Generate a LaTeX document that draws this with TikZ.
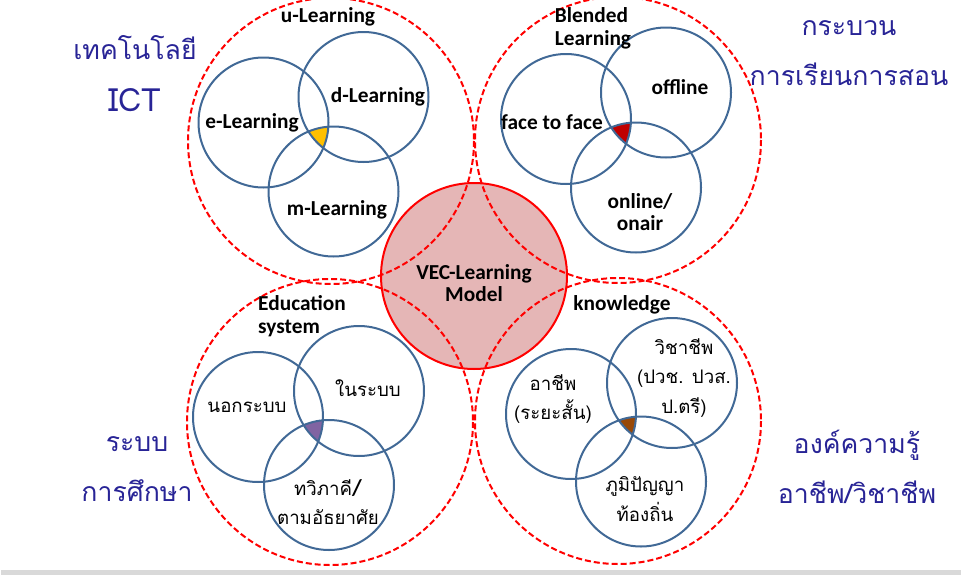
\documentclass[tikz,border=0pt]{standalone}
\usepackage{fontspec}
\setmainfont{Carlito}
\newfontfamily\thai[Script=Thai]{Loma}
\usetikzlibrary{positioning}
\definecolor{ringblue}{RGB}{65,105,150}
\definecolor{vecpink}{RGB}{229,182,182}
\definecolor{titleblue}{RGB}{40,36,150}
\definecolor{stripgray}{RGB}{217,217,217}
\definecolor{coreyellow}{RGB}{255,192,0}
\definecolor{corered}{RGB}{192,0,0}
\definecolor{corepurple}{RGB}{128,100,162}
\definecolor{corebrown}{RGB}{152,72,7}
\newcommand{\trio}[4]{% Tres aneis e o miolo
\tikzstyle{ring}=[ringblue,line width=1.5pt]
%
\begin{scope}
\clip (#1) circle (65);
\clip (#2) circle (65);
\fill [#4] (#3) circle (65);
\end{scope}
\draw [ring] (#1) circle (65);
\draw [ring] (#2) circle (65);
\draw [ring] (#3) circle (65);
}

\begin{document}
\begin{tikzpicture}[x=0.75pt,y=-0.75pt,every node/.style={inner sep=0,outer sep=0pt},
  lab/.style={font=\bfseries\fontsize{16}{17}\selectfont,align=center},
  thlab/.style={font=\thai\fontsize{14}{22}\selectfont,align=center},
  corner/.style={text=titleblue,font=\thai\fontsize{20}{37}\selectfont,align=center},
  halo/.style={red,line width=1.5pt,dash pattern=on 4.5pt off 2.25pt}]
\useasboundingbox (0,0) rectangle (961,575);
\fill [stripgray] (1,570) rectangle (961,575);
%
\coordinate (vec) at (474,276);
\coordinate (gTL) at (331,141);
\coordinate (gTR) at (618,140);
\coordinate (gBL) at (330,422);
\coordinate (gBR) at (618,421);
%
\fill [vecpink] (vec) circle (93);
\foreach \g in {gTL,gTR,gBL,gBR}
  \draw [halo] (\g) circle (143);
\draw [red,line width=1.5pt] (vec) circle (93);
\node[lab] at (474,283) (veclab) {VEC-Learning\\Model};
%
\begin{scope}
\coordinate (eL) at (263.5,122.5);
\coordinate (dL) at (363.5,97);
\coordinate (mL) at (333.5,191.5);
\trio{eL}{dL}{mL}{coreyellow}
\node[lab] at (328,17) (ul) {u-Learning};
\node[lab] at (252,123) (el) {e-Learning};
\node[lab] at (378,97) (dl) {d-Learning};
\node[lab] at (337,210) (ml) {m-Learning};
\end{scope}
%
\begin{scope}
\coordinate (ff) at (566,119);
\coordinate (off) at (666,92.5);
\coordinate (onl) at (636,187.5);
\trio{ff}{off}{onl}{corered}
\node[lab,align=left] at (593,28) (bl) {Blended\\Learning};
\node[lab] at (552,122) (fl) {face to face};
\node[lab] at (680,87) (ofl) {offline};
\node[lab] at (640,212) (onla) {online/\\onair};
\end{scope}
%
\begin{scope}
\coordinate (nok) at (258,417);
\coordinate (nai) at (359,391);
\coordinate (twi) at (329,485);
\trio{nok}{nai}{twi}{corepurple}
\node[lab,align=left] at (302,316) (es) {Education\\system};
\node[thlab] at (247,407) (nokl) {นอกระบบ};
\node[thlab] at (368,388) (nail) {ในระบบ};
\node[thlab] at (328,502) (twil) {ทวิภาคี{\rmfamily\bfseries\fontsize{17}{22}\selectfont/}\\ตามอัธยาศัย};
\end{scope}
%
\begin{scope}
\coordinate (ach) at (571,414);
\coordinate (vic) at (672,383);
\coordinate (phu) at (641,481.5);
\trio{ach}{vic}{phu}{corebrown}
\node[lab] at (622,305) (kn) {knowledge};
\node[thlab] at (553,399) (achl) {อาชีพ\\(ระยะสั้น)};
\node[thlab] at (684,378) (vicl) {วิชาชีพ\\(ปวช. ปวส.\\ป.ตรี)};
\node[thlab] at (645,499) (phul) {ภูมิปัญญา\\ท้องถิ่น};
\end{scope}
%
\node[corner] at (135,74) (ict) {เทคโนโลยี\\[2pt]{\fontsize{24}{37}\selectfont ICT}};
\node[corner] at (849,53) (proc) {กระบวน\\การเรียนการสอน};
\node[corner] at (857,467) (know) {องค์ความรู้\\อาชีพ/วิชาชีพ};
\node[corner] at (137,469) (sys) {ระบบ\\การศึกษา};
\end{tikzpicture}
\end{document}
